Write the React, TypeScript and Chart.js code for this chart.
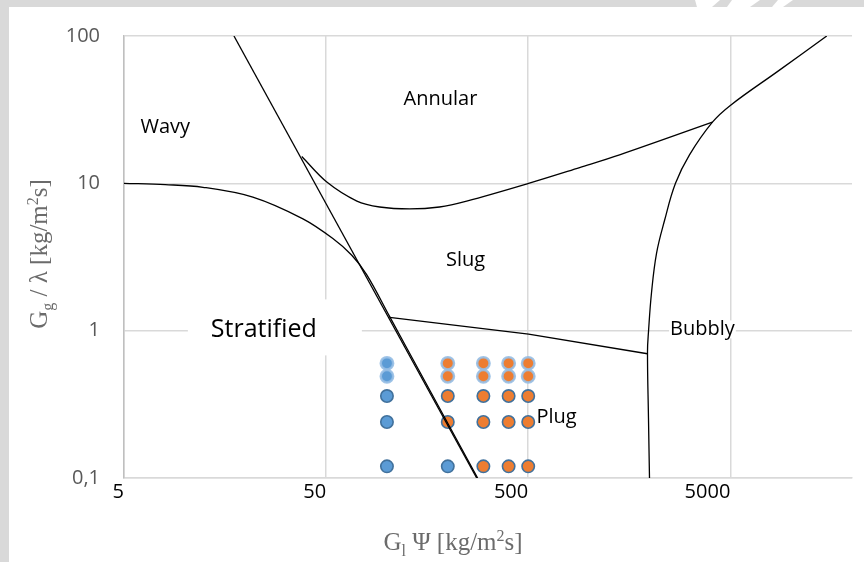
import React, { useEffect, useRef } from "react";
import { Chart, registerables } from "chart.js";

Chart.register(...registerables);

// ---- axis ticks ----
const X_TICKS = [5, 50, 500, 5000];
const X_TICK_LABELS = ["5", "50", "500", "5000"];
const Y_TICKS = [0.1, 1, 10, 100];
const Y_TICK_LABELS = ["0,1", "1", "10", "100"];

// ---- regime boundaries (G_l·Ψ , G_g/λ) ----
const wavyAnnularX = [17.5, 278];
const wavyAnnularY = [100, 0.1];

const stratifiedX = [5, 8, 12.3, 21.7, 38.4, 54, 67, 79.5, 103, 145, 281];
const stratifiedY = [10, 9.8, 9.4, 8.06, 5.74, 4.22, 3.25, 2.39, 1.25, 0.528, 0.1];

const annularSlugX = [37.9, 50.4, 71, 92, 129.6, 182, 248, 502, 898, 1416, 4078];
const annularSlugY = [15.2, 10.2, 7.58, 6.91, 6.7, 6.91, 7.58, 10, 12.8, 15.6, 26];

const bubblyX = [15000, 8650, 5000, 4078, 3140, 2677, 2361, 2157, 2037, 1968, 1946, 1968, 1991];
const bubblyY = [100, 58, 33.8, 26, 15.6, 10, 5.57, 3.35, 1.81, 0.98, 0.72, 0.256, 0.1];

const slugPlugX = [103, 502, 1946];
const slugPlugY = [1.23, 0.948, 0.697];

// ---- experimental points ----
const blueX = [100, 100, 100, 100, 100, 200];
const blueY = [0.6, 0.49, 0.36, 0.24, 0.12, 0.12];
const orangeX = [200, 200, 200, 200, 300, 300, 300, 300, 300, 400, 400, 400, 400, 400, 500, 500, 500, 500, 500];
const orangeY = [0.6, 0.49, 0.36, 0.24, 0.6, 0.49, 0.36, 0.24, 0.12, 0.6, 0.49, 0.36, 0.24, 0.12, 0.6, 0.49, 0.36, 0.24, 0.12];

// ---- region labels ----
const regionNames = ["Wavy", "Annular", "Slug", "Stratified", "Bubbly", "Plug"];
const regionAtX = [8.0, 184, 245, 24.6, 3640, 690];
const regionAtY = [24.1, 37, 3.0, 1.02, 1.02, 0.26];

const zip = (xs: number[], ys: number[]) => xs.map((x, i) => ({ x, y: ys[i] }));

const SANS = "'Open Sans', 'Noto Sans', sans-serif";
const SERIF = "'Liberation Serif', 'DejaVu Serif', serif";

type Part = { t: string; k?: "sub" | "sup" };

function drawRich(ctx: CanvasRenderingContext2D, parts: Part[], size: number, color: string) {
  const small = Math.round(size * 0.64);
  const fontFor = (p: Part) => `${p.k ? small : size}px ${SERIF}`;
  let total = 0;
  const widths = parts.map((p) => {
    ctx.font = fontFor(p);
    const w = ctx.measureText(p.t).width;
    total += w;
    return w;
  });
  let x = -total / 2;
  ctx.fillStyle = color;
  ctx.textAlign = "left";
  ctx.textBaseline = "alphabetic";
  parts.forEach((p, i) => {
    ctx.font = fontFor(p);
    const dy = p.k === "sub" ? size * 0.22 : p.k === "sup" ? -size * 0.38 : 0;
    ctx.fillText(p.t, x, dy);
    x += widths[i];
  });
}

const framePlugin = {
  id: "frame",
  beforeDraw(chart: any) {
    const ctx = chart.ctx as CanvasRenderingContext2D;
    const W = chart.width;
    const H = chart.height;
    ctx.save();
    ctx.fillStyle = "#d9d9d9";
    ctx.fillRect(0, 0, W, H);
    ctx.fillStyle = "#ffffff";
    ctx.fillRect(9, 7, W - 9, H - 7);
    // faint watermark cut-outs in the top band
    const shapes = [
      [695, 0, 720, 0, 712, 7, 697, 7],
      [732, 0, 760, 0, 750, 7, 727, 7],
      [778, 0, 793, 0, 783, 7, 772, 7],
    ];
    shapes.forEach((s) => {
      ctx.beginPath();
      ctx.moveTo(s[0], s[1]);
      ctx.lineTo(s[2], s[3]);
      ctx.lineTo(s[4], s[5]);
      ctx.lineTo(s[6], s[7]);
      ctx.closePath();
      ctx.fill();
    });
    ctx.restore();
  },
};

const labelsPlugin = {
  id: "labels",
  afterDatasetsDraw(chart: any) {
    const ctx = chart.ctx as CanvasRenderingContext2D;
    const xs = chart.scales.x;
    const ys = chart.scales.y;
    ctx.save();
    regionNames.forEach((name, i) => {
      const cx = xs.getPixelForValue(regionAtX[i]);
      const cy = ys.getPixelForValue(regionAtY[i]);
      const big = name === "Stratified";
      ctx.font = `${big ? 25 : 20}px ${SANS}`;
      const w = ctx.measureText(name).width;
      ctx.fillStyle = "#ffffff";
      if (big) {
        ctx.fillRect(cx - 76, cy - 30, 174, 56);
      } else if (name === "Bubbly") {
        ctx.fillRect(cx - w / 2 - 1, cy - 9, w + 2, 18);
      }
      ctx.fillStyle = "#000000";
      ctx.textAlign = "center";
      ctx.textBaseline = "middle";
      ctx.fillText(name, cx, cy);
    });
    ctx.restore();

    // axis titles
    ctx.save();
    ctx.translate(453, 550);
    drawRich(
      ctx,
      [{ t: "G" }, { t: "l", k: "sub" }, { t: " \u03A8 [kg/m" }, { t: "2", k: "sup" }, { t: "s]" }],
      25,
      "#6b6b6b"
    );
    ctx.restore();

    ctx.save();
    ctx.translate(47, 254);
    ctx.rotate(-Math.PI / 2);
    drawRich(
      ctx,
      [{ t: "G" }, { t: "g", k: "sub" }, { t: " / \u03BB [kg/m" }, { t: "2", k: "sup" }, { t: "s]" }],
      25,
      "#6b6b6b"
    );
    ctx.restore();
  },
};

export default function App() {
  const ref = useRef<HTMLCanvasElement | null>(null);

  useEffect(() => {
    if (!ref.current) return;
    const curve = (xs: number[], ys: number[], tension: number) => ({
      type: "line" as const,
      data: zip(xs, ys),
      showLine: true,
      borderColor: "#000000",
      borderWidth: 1.3,
      pointRadius: 0,
      fill: false,
      tension,
    });
    const dotBorder = (ctx: any) => {
      const raw = ctx.raw as { y: number } | undefined;
      return raw && raw.y >= 0.45 ? "rgba(150,190,228,0.9)" : "#41719C";
    };
    const dotWidth = (ctx: any) => {
      const raw = ctx.raw as { y: number } | undefined;
      return raw && raw.y >= 0.45 ? 2.5 : 1.6;
    };

    const chart = new Chart(ref.current, {
      type: "scatter",
      data: {
        datasets: [
          curve(wavyAnnularX, wavyAnnularY, 0),
          curve(stratifiedX, stratifiedY, 0.35),
          curve(annularSlugX, annularSlugY, 0.35),
          curve(bubblyX, bubblyY, 0.4),
          curve(slugPlugX, slugPlugY, 0),
          {
            label: "stratified",
            data: zip(blueX, blueY),
            backgroundColor: "#5B9BD5",
            borderColor: dotBorder,
            borderWidth: dotWidth,
            pointRadius: 6.2,
            showLine: false,
          } as any,
          {
            label: "plug",
            data: zip(orangeX, orangeY),
            backgroundColor: "#ED7D31",
            borderColor: dotBorder,
            borderWidth: dotWidth,
            pointRadius: 6.2,
            showLine: false,
          } as any,
        ],
      },
      options: {
        animation: false,
        responsive: false,
        maintainAspectRatio: false,
        layout: { padding: { left: 0, right: 12, top: 29, bottom: 0 } },
        plugins: { legend: { display: false }, tooltip: { enabled: false } },
        scales: {
          x: {
            type: "logarithmic",
            min: 5,
            max: 20000,
            afterBuildTicks: (s: any) => {
              s.ticks = X_TICKS.map((v) => ({ value: v }));
            },
            afterFit: (s: any) => {
              s.height = 84;
            },
            grid: { color: "#d9d9d9", lineWidth: 1.5, drawTicks: false },
            border: { color: "#d9d9d9", width: 1.5 },
            ticks: {
              align: "end",
              padding: 2,
              color: "#000000",
              autoSkip: false,
              maxRotation: 0,
              font: { size: 20, family: SANS },
              callback: (v: any) => X_TICK_LABELS[X_TICKS.indexOf(Number(v))] ?? "",
            },
          },
          y: {
            type: "logarithmic",
            min: 0.1,
            max: 100,
            afterBuildTicks: (s: any) => {
              s.ticks = Y_TICKS.map((v) => ({ value: v }));
            },
            afterFit: (s: any) => {
              s.width = 124;
            },
            grid: { color: "#d9d9d9", lineWidth: 1.5, drawTicks: false },
            border: { color: "#bfbfbf", width: 1.5 },
            ticks: {
              padding: 24,
              color: "#595959",
              autoSkip: false,
              font: { size: 20, family: SANS },
              callback: (v: any) => Y_TICK_LABELS[Y_TICKS.indexOf(Number(v))] ?? "",
            },
          },
        },
      } as any,
      plugins: [framePlugin, labelsPlugin],
    });
    return () => chart.destroy();
  }, []);

  return (
    <div style={{ position: "absolute", left: 0, top: 0, width: 864, height: 562 }}>
      <canvas ref={ref} width={864} height={562} style={{ display: "block", width: 864, height: 562 }} />
    </div>
  );
}
